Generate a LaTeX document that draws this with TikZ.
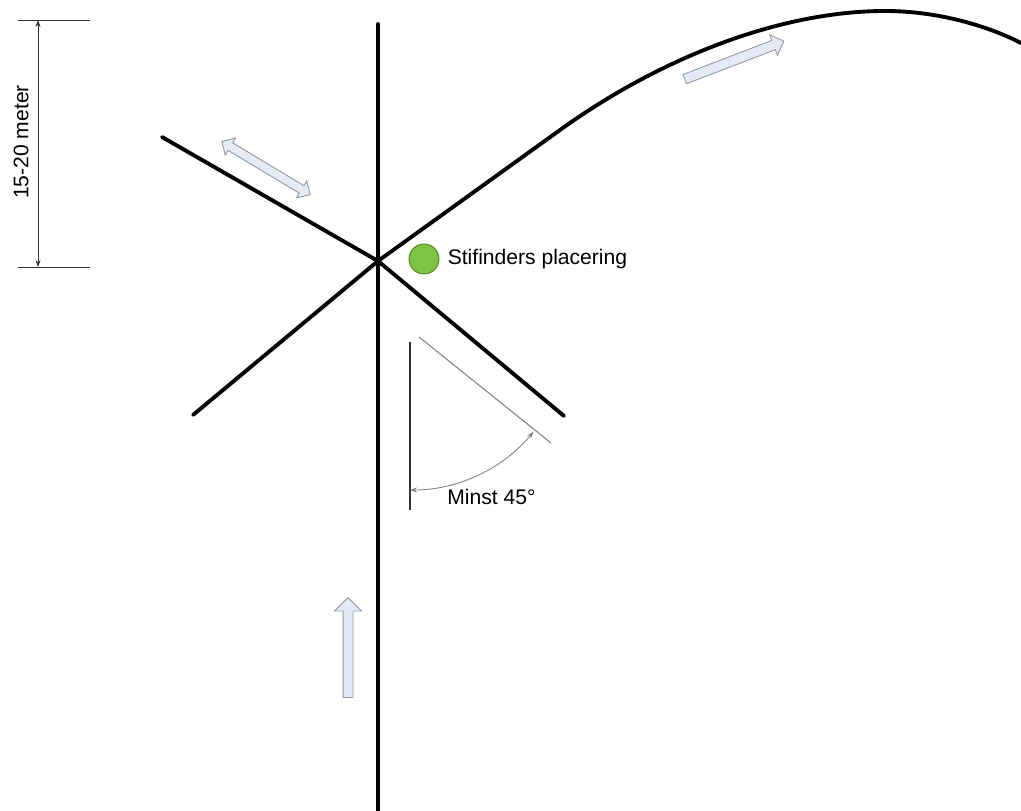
\documentclass[tikz,border=0pt]{standalone}
\usepackage{fontspec}
\setmainfont{Liberation Sans}
\usetikzlibrary{arrows.meta,positioning,shapes.arrows}

\definecolor{roadblk}{RGB}{0,0,0}
\definecolor{thingray}{RGB}{130,130,130}
\definecolor{arrowfill}{RGB}{228,234,246}
\definecolor{arrowedge}{RGB}{150,150,155}
\definecolor{spotfill}{RGB}{128,196,68}
\definecolor{spotedge}{RGB}{80,130,40}

\begin{document}
\begin{tikzpicture}[
  x=0.2mm, y=0.2mm,
  font=\fontsize{12}{14}\selectfont,
  >=Stealth,
  road/.style={draw=roadblk, line width=2.2pt, line cap=round},
  thin/.style={draw=thingray, line width=0.6pt},
  dim/.style={draw=black!80, line width=0.5pt},
  dimarr/.style={dim, {Stealth[length=1.4mm,width=1mm]}-{Stealth[length=1.4mm,width=1mm]}},
  walk/.style={single arrow, draw=arrowedge, fill=arrowfill, line width=0.5pt,
    inner sep=0pt, text depth=0pt, single arrow head indent=0pt},
  walk2/.style={double arrow, draw=arrowedge, fill=arrowfill, line width=0.5pt,
    inner sep=0pt, text depth=0pt, double arrow head indent=0pt},
  spot/.style={circle, draw=spotedge, fill=spotfill, line width=0.5pt,
    minimum size=6mm, inner sep=0pt},
  txt/.style={inner sep=0pt, anchor=west},
]
  \useasboundingbox (0,0) rectangle (1021,810);

  % ===== crossing =====
  \coordinate (mid) at (378,549);
  \coordinate (top) at (378,786);
  \coordinate (bot) at (378,-5);
  \coordinate (ul) at (162,673);
  \coordinate (ll) at (193,395);
  \coordinate (lr) at (564,394);
  \coordinate (bend) at (560,680);
  \coordinate (crest) at (885,799);
  \coordinate (far) at (1021,767);

  \draw[road] (top) -- (bot);
  \draw[road] (ul) -- (mid) -- (lr);
  \draw[road] (ll) -- (mid);
  \draw[road] (mid) -- (bend)
    .. controls (660,752) and (780,799) .. (crest)
    .. controls (940,799) and (990,783) .. (far);

  % ===== walking directions =====
  \node[walk2, minimum height=20.6mm, text height=1.6mm,
    double arrow head extend=1.1mm, rotate=-31] (dir1) at (266,642) {};
  \node[walk, minimum height=21.2mm, text height=1.8mm,
    single arrow head extend=1.2mm, rotate=21] (dir2) at (732,749) {};
  \node[walk, minimum height=20mm, text height=1.8mm,
    single arrow head extend=1.7mm, rotate=90] (dir3) at (348,160) {};

  % ===== finder spot =====
  \node[spot] (finder) at (424,551) {};
  \node[txt, right=1.6mm of finder] (findertxt) {Stifinders placering};

  % ===== distance =====
  \coordinate (dtopa) at (18,790);
  \coordinate (dtopb) at (90,790);
  \coordinate (dbota) at (18,543);
  \coordinate (dbotb) at (90,543);
  \coordinate (dtop) at (38,790);
  \coordinate (dbot) at (38,543);
  \draw[dim] (dtopa) -- (dtopb);
  \draw[dim] (dbota) -- (dbotb);
  \draw[dimarr] (dtop) -- (dbot);
  \node[rotate=90, inner sep=0pt] (dimtxt) at (21,668) {15-20 meter};

  % ===== angle =====
  \coordinate (apex) at (410,480);
  \coordinate (vtop) at (410,468);
  \coordinate (vbot) at (410,300);
  \coordinate (gtop) at (419,473);
  \coordinate (gbot) at (551,367);
  \draw[thin, draw=black!80] (vtop) -- (vbot);
  \draw[thin] (gtop) -- (gbot);
  \draw[dimarr, draw=thingray] ([shift={(-90:3.2cm)}]apex) arc[start angle=-90, end angle=-39.5, radius=3.2cm];
  \node[txt] (angtxt) at (447,313) {Minst 45°};
\end{tikzpicture}
\end{document}
